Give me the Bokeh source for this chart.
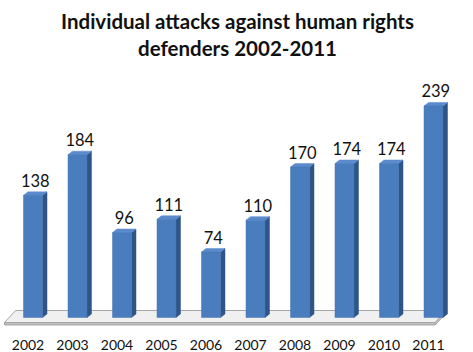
from bokeh.plotting import figure
from bokeh.models import Range1d, ColumnDataSource
from bokeh.core.properties import value
from bokeh.embed import file_html
from bokeh.resources import INLINE

years = ["2002", "2003", "2004", "2005", "2006", "2007", "2008", "2009", "2010", "2011"]
attacks = [138, 184, 96, 111, 74, 110, 170, 174, 174, 239]
title_lines = ["Individual attacks against human rights", "defenders 2002-2011"]

W, H = 473, 352
PX_X = 44.5      # pixels per category
PX_Y = 0.885     # pixels per unit value
x0 = -32.5 / PX_X
y0 = -35 / PX_Y

def ux(px):
    return px / PX_X

def uy(px):
    return px / PX_Y

p = figure(width=W, height=H, output_backend="svg", toolbar_location=None,
           x_range=Range1d(x0, x0 + W / PX_X), y_range=Range1d(y0, y0 + H / PX_Y),
           min_border=0, outline_line_color=None)
p.axis.visible = False
p.grid.visible = False
p.background_fill_color = "white"
p.border_fill_color = "white"

n = len(years)
# floor
fl = -0.5 - ux(6.25)
fr = n - 0.5 - ux(20.5)
bdx, yb, yf, th = ux(11), uy(7), uy(-5), uy(2.5)
p.patch([fl, fr, fr + bdx, fl + bdx], [yf, yf, yb, yb], fill_color="#f0f0f0", line_color="#a6a6a6", line_width=1)
p.patch([fl, fr, fr, fl], [yf, yf, yf - th, yf - th], fill_color="#c0c0c0", line_color="#a6a6a6", line_width=1)
p.patch([fr, fr + bdx, fr + bdx, fr], [yf, yb, yb - th, yf - th], fill_color="#c8c8c8", line_color="#a6a6a6", line_width=1)

# bars
bw = ux(19) / 2
dx, dy = ux(4.5), uy(3.5)
xs = list(range(n))
fronts_x, fronts_y, sides_x, sides_y, tops_x, tops_y = [], [], [], [], [], []
for i, v in zip(xs, attacks):
    l, r = i - bw, i + bw
    fronts_x.append([l, r, r, l]); fronts_y.append([0, 0, v, v])
    sides_x.append([r, r + dx, r + dx, r]); sides_y.append([0, dy, v + dy, v])
    tops_x.append([l, r, r + dx, l + dx]); tops_y.append([v, v, v + dy, v + dy])
p.patches(sides_x, sides_y, fill_color="#2f5487", line_color="#2f5487", line_width=0.5)
p.patches(tops_x, tops_y, fill_color="#5b8bcc", line_color="#5b8bcc", line_width=0.5)
p.patches(fronts_x, fronts_y, fill_color="#4a7dbd", line_color="#4677b4", line_width=0.5)

# value labels
src = ColumnDataSource(dict(x=[i + dx / 2 for i in xs], y=[v + uy(15) for v in attacks],
                            t=[str(v) for v in attacks]))
p.text(x="x", y="y", text="t", source=src, text_font=value("Lato"), text_font_size="16.5px",
       text_color="#111111", text_align="center", text_baseline="alphabetic")

# year labels
ysrc = ColumnDataSource(dict(x=[i - ux(5) for i in xs], y=[uy(317 - 344)] * n, t=years))
p.text(x="x", y="y", text="t", source=ysrc, text_font=value("Lato"), text_font_size="14px",
       text_color="#111111", text_align="center", text_baseline="middle")

# title
xc = x0 + ux(237)
p.text(x=[xc, xc], y=[uy(317 - 20), uy(317 - 47)], text=title_lines, text_font=value("Lato"),
       text_font_size="20.5px", text_font_style="bold", text_color="#111111",
       text_align="center", text_baseline="alphabetic")

open("out.html", "w").write(file_html(p, INLINE))
